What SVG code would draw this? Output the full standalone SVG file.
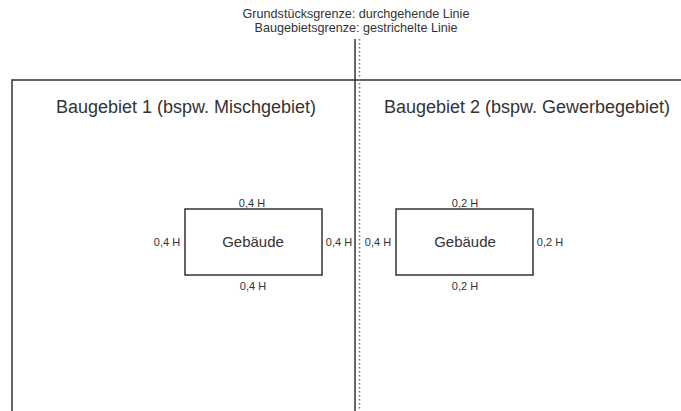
<svg xmlns="http://www.w3.org/2000/svg" width="681" height="411" viewBox="0 0 681 411">
<style>
text{font-family:"Liberation Sans",Arial,sans-serif;fill:#333;text-anchor:middle}
.lbl{font-size:11px}
.ttl{font-size:12.6px}
.area{font-size:18px}
.nm{font-size:15px}
.solid{stroke:#333;stroke-width:1.5;fill:none}
.dot{stroke:#777;stroke-width:1.6;stroke-dasharray:1.5 2.5;fill:none}
.bx{fill:#fff;stroke:#333;stroke-width:1.5}
</style>
<rect width="681" height="411" fill="#fff"/>
<g id="legend">
<text class="ttl" x="356" y="18">Grundstücksgrenze: durchgehende Linie</text>
<text class="ttl" x="356" y="32">Baugebietsgrenze: gestrichelte Linie</text>
</g>
<g id="connectors">
<polyline class="solid" points="12,411 12,80 681,80"/>
<line class="solid" x1="355" y1="39" x2="355" y2="411"/>
<line class="dot" x1="359.5" y1="39" x2="359.5" y2="411"/>
</g>
<g id="area1">
<text class="area" x="186" y="113">Baugebiet 1 (bspw. Mischgebiet)</text>
</g>
<g id="area2">
<text class="area" x="527" y="113">Baugebiet 2 (bspw. Gewerbegebiet)</text>
</g>
<g id="building1">
<rect class="bx" x="185" y="209" width="137" height="66"/>
<text class="nm" x="253" y="247">Gebäude</text>
<text class="lbl" x="252" y="207">0,4 H</text>
<text class="lbl" x="253" y="290">0,4 H</text>
<text class="lbl" x="167" y="246">0,4 H</text>
<text class="lbl" x="339" y="246">0,4 H</text>
</g>
<g id="building2">
<rect class="bx" x="396" y="209" width="137" height="66"/>
<text class="nm" x="465" y="247">Gebäude</text>
<text class="lbl" x="465" y="207">0,2 H</text>
<text class="lbl" x="465" y="290">0,2 H</text>
<text class="lbl" x="378" y="246">0,4 H</text>
<text class="lbl" x="550" y="246">0,2 H</text>
</g>
</svg>
